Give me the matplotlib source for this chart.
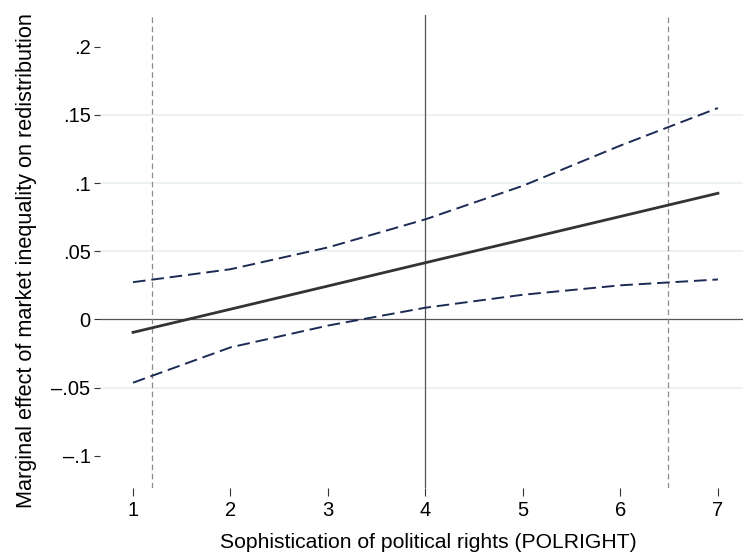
import matplotlib.pyplot as plt
import numpy as np

plt.rcParams['font.family'] = ['Liberation Sans', 'DejaVu Sans']

# marginal effect of market inequality, with 95% bounds
polright = [1, 2, 3, 4, 5, 6, 7]
effect = [-0.0095, 0.0075, 0.0245, 0.0416, 0.0585, 0.0755, 0.0925]
upper = [0.0273, 0.0368, 0.0528, 0.0734, 0.0980, 0.1275, 0.1550]
lower = [-0.0464, -0.0205, -0.0045, 0.0086, 0.0181, 0.0250, 0.0293]

# range of observed POLRIGHT values
obs_min, obs_max = 1.195, 6.49

yticks = [-0.1, -0.05, 0, 0.05, 0.1, 0.15, 0.2]
ytick_labels = ['\u2013.1', '\u2013.05', '0', '.05', '.1', '.15', '.2']
grid_y = [-0.05, 0.05, 0.1, 0.15]

fig = plt.figure(figsize=(7.43, 5.56), dpi=100)
ax = fig.add_axes([100/743, 1 - 488/556, 643/743, (488 - 15)/556])

for g in grid_y:
    ax.axhline(g, color='#eaf0f2', lw=1.3, zorder=0)
ax.axhline(0, color='#555555', lw=0.9, zorder=1)
ax.axvline(4, color='#555555', lw=0.9, zorder=1)
for v in (obs_min, obs_max):
    ax.axvline(v, color='#8c8c8c', lw=0.9, linestyle=(0, (4.5, 2.8)), zorder=1)

ax.plot(polright, upper, color='#1c2b55', lw=1.4, linestyle=(0, (6.5, 3)), zorder=2)
ax.plot(polright, lower, color='#1c2b55', lw=1.4, linestyle=(0, (6.5, 3)), zorder=2)
ax.plot(polright, effect, color='#333333', lw=2.0, zorder=3)

ax.set_xlim(0.6615, 7.257)
ax.set_ylim(-0.1236, 0.2232)
ax.set_xticks(polright)
ax.set_yticks(yticks)
ax.set_yticklabels(ytick_labels)

for s in ax.spines.values():
    s.set_visible(False)
ax.tick_params(axis='both', direction='out', width=0.8,
               color='#333333', labelsize=14.5)
ax.tick_params(axis='y', length=4.3, pad=2.5)
ax.tick_params(axis='x', length=5.5, pad=4)

ax.set_xlabel('Sophistication of political rights (POLRIGHT)', fontsize=15.25)
ax.set_ylabel('Marginal effect of market inequality on redistribution', fontsize=15.6)
ax.xaxis.set_label_coords(0.51, -0.095)
ax.yaxis.set_label_coords(-0.098, 0.48)

fig.savefig('out.png', dpi=100)
